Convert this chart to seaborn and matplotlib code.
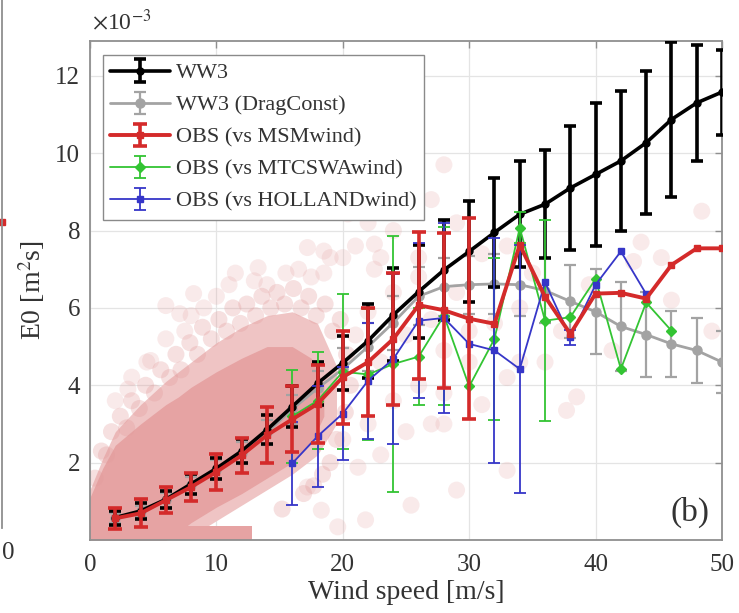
import numpy as np
import pandas as pd
import matplotlib
matplotlib.use("Agg")
import matplotlib.pyplot as plt
import seaborn as sns

# ---------------- data (E0 in units of 1e-3 m^2 s) ----------------
wind = [2, 4, 6, 8, 10, 12, 14, 16, 18, 20, 22, 24, 26, 28, 30, 32, 34, 36, 38, 40, 42, 44, 46, 48, 50]

ww3 = [0.58, 0.75, 1.05, 1.45, 1.85, 2.30, 2.85, 3.45, 4.05, 4.58, 5.15, 5.82, 6.42, 6.98, 7.46, 7.95,
       8.42, 8.68, 9.10, 9.45, 9.80, 10.27, 10.87, 11.30, 11.58]
ww3_err = [0.18, 0.20, 0.22, 0.25, 0.28, 0.32, 0.38, 0.52, 0.55, 0.70, 0.95, 1.20, 1.20, 1.30, 1.30, 1.40,
           1.37, 1.40, 1.60, 1.85, 1.80, 1.85, 2.00, 1.50, 1.10]

drag = [0.57, 0.74, 1.03, 1.42, 1.82, 2.25, 2.78, 3.38, 3.92, 4.42, 5.00, 5.62, 6.30, 6.55, 6.60, 6.62,
        6.60, 6.45, 6.17, 5.90, 5.52, 5.31, 5.07, 4.90, 4.60]
drag_err = [0.12, 0.15, 0.18, 0.22, 0.25, 0.28, 0.32, 0.38, 0.45, 0.55, 0.62, 0.70, 0.75, 0.75, 0.75, 0.78,
            0.80, 0.85, 0.95, 1.10, 1.15, 1.10, 0.85, 0.85, 0.80]

msm = [0.56, 0.69, 1.03, 1.37, 1.76, 2.19, 2.71, 3.12, 3.52, 4.21, 4.60, 5.20, 6.07, 5.94, 5.72, 5.59,
       7.63, 6.29, 5.33, 6.37, 6.39, 6.24, 7.11, 7.54, 7.54]
msm_err = [0.28, 0.36, 0.33, 0.37, 0.46, 0.45, 0.73, 0.85, 1.00, 1.20, 1.40, 1.70, 1.90, 2.00, 2.60, None,
           None, None, None, None, None, None, None, None, None]

mtc_wind = [16, 18, 20, 22, 24, 26, 28, 30, 32, 34, 36, 38, 40, 42, 44, 46]
mtc = [3.20, 3.60, 4.35, 4.28, 4.55, 4.74, 5.80, 3.97, 5.20, 8.07, 5.67, 5.76, 6.75, 4.42, 6.14, 5.41]
mtc_err = [1.20, 1.25, 2.00, 1.70, 3.30, 1.25, 2.30, None, 2.10, 0.40, 2.60, None, None, None, None, None]

hol_wind = [16, 18, 20, 22, 24, 26, 28, 30, 32, 34, 36, 38, 40, 42, 44]
hol = [1.98, 2.68, 3.27, 4.12, 4.68, 5.67, 5.74, 5.07, 4.90, 4.42, 6.66, 5.24, 6.60, 7.46, 6.36]
hol_err = [1.08, 1.30, 1.20, 1.50, 2.20, 2.00, 2.45, None, 2.90, 3.20, None, 0.20, None, None, None]

fringe_wind = [0.0, 1.0, 2.0, 4.0, 6.0, 8.0, 10.0, 12.0, 14.0, 16.0, 18.0, 19.5]
fringe_low = [0.0, 0.0, 0.0, 0.0, 0.0, 0.10, 0.50, 0.90, 1.30, 1.70, 2.20, 3.00]
fringe_high = [1.30, 2.10, 2.80, 3.50, 4.10, 4.60, 5.10, 5.50, 5.80, 5.90, 5.60, 4.50]
core_wind = [0.0, 1.0, 2.0, 4.0, 6.0, 7.0, 8.0, 10.0, 12.0, 14.0, 16.0, 17.5, 18.5]
core_low = [0.0, 0.0, 0.0, 0.0, 0.0, 0.2, 0.45, 0.85, 1.20, 1.60, 2.00, 2.50, 3.20]
core_high = [1.10, 1.85, 2.45, 3.00, 3.50, 3.70, 3.95, 4.35, 4.70, 5.00, 5.00, 4.70, 4.00]
band_wind = [0.0, 12.8]
band_high = [0.35, 0.35]

# observation points around the outer edge of the cloud
edge_wind = [0.4, 0.9, 1.3, 1.7, 2.4, 2.9, 3.3, 3.9, 4.4, 5.1, 5.6, 6.3, 6.8, 7.2, 7.9, 8.5, 8.9, 9.6,
             10.2, 10.8, 11.3, 11.9, 12.4, 13.1, 13.6, 14.3, 14.8, 15.4, 16.1, 16.7, 17.3, 17.9, 18.6,
             19.2, 19.8, 20.3, 20.6, 20.2, 19.5, 19.0, 18.4, 17.7, 16.9, 15.2]
edge_e0 = [1.6, 2.3, 2.2, 2.8, 3.2, 2.9, 3.6, 3.4, 4.0, 3.8, 4.4, 4.2, 4.8, 4.4, 5.1, 4.8, 5.5, 5.2,
           5.7, 5.4, 6.0, 5.6, 6.1, 5.8, 6.3, 6.0, 6.4, 6.1, 6.5, 6.0, 6.3, 5.8, 6.1,
           5.4, 5.7, 4.8, 4.0, 3.3, 2.6, 2.0, 1.7, 1.4, 1.2, 0.8]

# individual (sparser) observation points
obs_wind = [2.0, 3.0, 4.5, 6.0, 7.5, 8.0, 9.0, 11.0, 10.0, 11.5, 13.0, 14.0, 15.5, 16.5, 17.5, 18.5,
            19.0, 20.0, 21.0, 22.0, 22.5, 23.0, 24.0, 24.5, 25.5, 26.0, 27.0, 28.0, 29.0, 31.0, 33.0,
            35.0, 13.3, 8.2, 6.0, 7.1, 3.3, 4.8, 17.2, 20.4, 18.5, 22.5, 21.0, 22.0, 23.0, 24.0, 25.0,
            26.0, 27.0, 28.0, 29.0, 30.0, 20.0, 22.0, 24.0, 26.0, 28.0, 30.0, 32.0, 33.0, 34.0, 23.0,
            25.0, 27.0, 18.3, 17.2, 19.6, 21.2, 21.8, 25.4, 29.0, 33.0, 31.0, 34.0, 37.3, 38.5, 41.3,
            43.6, 46.0, 48.4, 49.2, 45.2, 43.0, 37.7, 36.0, 39.5, 28.0]
obs_e0 = [3.6, 3.9, 4.6, 5.2, 5.4, 5.8, 6.0, 6.6, 6.3, 6.9, 6.7, 6.6, 6.9, 7.0, 6.8, 6.9,
          7.3, 7.3, 7.6, 8.2, 7.0, 7.3, 8.0, 9.4, 8.5, 7.3, 8.8, 9.7, 8.2, 7.4, 7.6,
          6.9, 7.04, 6.37, 6.06, 5.85, 4.21, 4.64, 7.56, 8.43, 7.47, 7.65, 5.3, 5.9, 4.6, 6.4, 5.3,
          6.8, 5.7, 4.9, 6.4, 5.4, 2.6, 3.0, 3.6, 4.0, 3.8, 4.6, 5.6, 4.2, 6.0, 2.2,
          2.8, 3.0, 0.77, 1.37, 0.34, 1.88, 0.52, 0.9, 1.29, 1.8, 3.5, 4.6, 5.4, 3.7, 4.9,
          7.7, 6.2, 8.5, 5.4, 7.3, 7.2, 3.35, 4.6, 6.6, 3.0]

# partial neighbouring panel (a): one visible marker at its right edge
panel_a_x = [0.0]
panel_a_y = [0.58]
panel_a_tick = "0"

# ---------------- style ----------------
sns.set_theme(style="white")
plt.rcParams["font.family"] = ["Liberation Serif", "DejaVu Serif"]
plt.rcParams["mathtext.fontset"] = "stix"
TXT = "#333333"
SPINE = "#8f8f8f"
PINK = "#e6a3a3"
PALE = "#efc4c4"

fig = plt.figure(figsize=(7.39, 6.13), dpi=100)
ax = fig.add_axes([90 / 739, 73 / 613, 632 / 739, 499 / 613])

# cloud
ax.fill_between(fringe_wind, fringe_low, fringe_high, color=PALE, lw=0, zorder=1)
ax.fill_between(core_wind, core_low, core_high, color=PINK, lw=0, zorder=1.1)
ax.fill_between(band_wind, [0, 0], band_high, color=PINK, lw=0, zorder=1.1)
edge_df = pd.DataFrame({"wind": edge_wind, "e0": edge_e0})
sns.scatterplot(data=edge_df, x="wind", y="e0", ax=ax, s=150, color="#e29a9a", alpha=0.3,
                edgecolor="none", zorder=2, legend=False)
obs_df = pd.DataFrame({"wind": obs_wind, "e0": obs_e0})
sns.scatterplot(data=obs_df, x="wind", y="e0", ax=ax, s=150, color="#e29a9a", alpha=0.2,
                edgecolor="none", zorder=2, legend=False)


def arr(v):
    return np.array([np.nan if x is None else x for x in v], dtype=float)


h_ww3 = ax.errorbar(wind, ww3, yerr=arr(ww3_err), color="black", lw=2.6, marker="o", ms=5,
                    elinewidth=2.6, capsize=4.5, capthick=2.6, zorder=4)
h_drag = ax.errorbar(wind, drag, yerr=arr(drag_err), color="#a3a3a3", lw=2.0, marker="o", ms=6.5,
                     elinewidth=1.6, capsize=4.5, capthick=1.6, zorder=3)
h_mtc = ax.errorbar(mtc_wind, mtc, yerr=arr(mtc_err), color="#33c433", lw=1.3, marker="D", ms=5,
                    elinewidth=1.3, capsize=4.5, capthick=1.3, zorder=5)
h_hol = ax.errorbar(hol_wind, hol, yerr=arr(hol_err), color="#3636c8", lw=1.3, marker="s", ms=5,
                    elinewidth=1.3, capsize=4.5, capthick=1.3, zorder=6)
h_msm = ax.errorbar(wind, msm, yerr=arr(msm_err), color="#d42a2a", lw=2.8, marker="s", ms=4.5,
                    elinewidth=2.6, capsize=5, capthick=2.6, zorder=7)

ax.set_xlim(0, 50)
ax.set_ylim(0, 12.9)
ax.set_xticks([0, 10, 20, 30, 40, 50])
ax.set_yticks([2, 4, 6, 8, 10, 12])
ax.grid(True, color="#e4e4e4", lw=0.9, zorder=0)
ax.set_axisbelow(True)
for s in ax.spines.values():
    s.set_color(SPINE)
    s.set_linewidth(1.3)
ax.tick_params(direction="in", length=5, width=1, colors=SPINE, labelcolor=TXT, labelsize=18,
               top=True, right=True, pad=7)
ax.tick_params(axis="x", pad=10)

ax.set_xlabel("Wind speed [m/s]", fontsize=20, color=TXT, labelpad=3)
ax.set_ylabel(r"E0 [m$^{2}$s]", fontsize=20, color=TXT, labelpad=6)
ax.text(0.003, 1.012, r"$\times$10$^{-3}$", transform=ax.transAxes, fontsize=17, color=TXT,
        ha="left", va="bottom")
ax.text(0.95, 0.055, "(b)", transform=ax.transAxes, fontsize=24, color=TXT, ha="center", va="center")

leg = ax.legend([h_ww3, h_drag, h_msm, h_mtc, h_hol],
                ["WW3", "WW3 (DragConst)", "OBS (vs MSMwind)", "OBS (vs MTCSWAwind)", "OBS (vs HOLLANDwind)"],
                loc="upper left", bbox_to_anchor=(0.02, 0.972), borderaxespad=0, fontsize=16,
                handlelength=2.7, handletextpad=0.25, labelspacing=0.52, borderpad=0.35,
                frameon=True, fancybox=False, framealpha=1, edgecolor="#8a8a8a")
leg.get_frame().set_linewidth(1.0)
for t in leg.get_texts():
    t.set_color(TXT)

# sliver of neighbouring panel (a)
ax0 = fig.add_axes([-0.3, 85 / 613, 0.3 + 2 / 739, 528 / 613])
ax0.set_xlim(-1, 0)
ax0.set_ylim(0, 1)
for k in ["left", "top", "bottom"]:
    ax0.spines[k].set_visible(False)
ax0.spines["right"].set_color(SPINE)
ax0.spines["right"].set_linewidth(1.3)
ax0.set_yticks([])
ax0.set_xticks([])
ax0.set_facecolor("none")
ax0.plot(panel_a_x, panel_a_y, marker="s", color="#d42a2a", ms=5, ls="none", clip_on=False)
fig.text(8 / 739, 1 - 553 / 613, panel_a_tick, fontsize=18, color=TXT, ha="center", va="center")

fig.savefig("out.png", dpi=100)
